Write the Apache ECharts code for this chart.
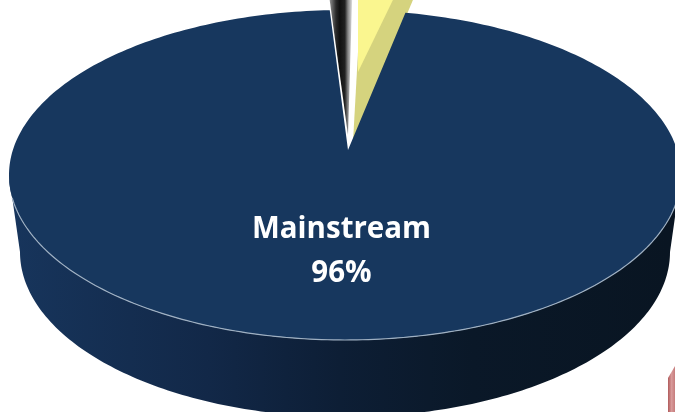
<!DOCTYPE html>
<html>
<head>
<meta charset="utf-8">
<title>Mainstream</title>
<style>
    html, body { margin: 0; padding: 0; background: #fff; }
    #chart { width: 675px; height: 412px; }
</style>
<script src="https://cdn.jsdelivr.net/npm/echarts@6/dist/echarts.min.js"></script>
</head>
<body>
<div id="chart"></div>
<script>
// chart data
var sliceNames = ['Small slice', 'Second slice', 'Mainstream'];
var sliceValues = [1, 2.6, 96.4];

var startAngle = -2.6; // degrees clockwise from the top, where the small slice begins
var faceColors = ['#1a1a1a', '#faf68f', '#17375e'];

// the tilted disc
var disc = { cx: 345, cy: 175, rx: 336, ry: 165, apexX: 348, apexY: 150 };
var wall = { cx: 345, cy: 252, rx: 325, ry: 165 };
// pulled out slices are moved up, each has its own centre and tip
var smallTop = { cx: 345.5, cy: 140, rx: 420, ry: 164, apexX: 348, apexY: 135 };
var yellowTop = { cx: 353.6, cy: 86, rx: 252, ry: 100, apexX: 358, apexY: 72 };
var yellowSide = { cx: 355.6, cy: 154, rx: 336, ry: 164, apexX: 353, apexY: 142 };

function arcPoint(d, deg) {
    var a = deg * Math.PI / 180;
    return [d.cx + d.rx * Math.sin(a), d.cy - d.ry * Math.cos(a)];
}

function arcPoints(d, from, to) {
    var pts = [];
    var steps = Math.max(2, Math.ceil(Math.abs(to - from)));
    for (var i = 0; i <= steps; i++) {
        pts.push(arcPoint(d, from + (to - from) * i / steps));
    }
    return pts;
}

function slicePolygon(d, from, to) {
    return [[d.apexX, d.apexY]].concat(arcPoints(d, from, to));
}

function polygon(points, fill, z2) {
    return { type: 'polygon', z2: z2, shape: { points: points }, style: { fill: fill } };
}

var total = sliceValues.reduce(function (a, b) { return a + b; }, 0);

function sliceSpan(index) {
    var from = startAngle;
    for (var i = 0; i < index; i++) {
        from += sliceValues[i] / total * 360;
    }
    return [from, from + sliceValues[index] / total * 360];
}

function renderSmall(span) {
    return polygon(slicePolygon(smallTop, span[0], span[1]), {
        type: 'linear', x: 330, y: 0, x2: 354, y2: 0, global: true,
        colorStops: [
            { offset: 0, color: '#8a8a8a' },
            { offset: 0.25, color: '#2a2a2a' },
            { offset: 0.4, color: '#111111' },
            { offset: 0.62, color: '#222222' },
            { offset: 0.75, color: '#888888' },
            { offset: 0.92, color: '#dddddd' },
            { offset: 1, color: '#ffffff' }
        ]
    }, 1);
}

function renderSecond(span) {
    return {
        type: 'group',
        children: [
            polygon(slicePolygon(yellowSide, span[0], span[1]), '#d5d37e', 2),
            polygon(slicePolygon(yellowTop, span[0], span[1]), faceColors[1], 3)
        ]
    };
}

function renderMain(span, name, value) {
    var frontTop = arcPoints(disc, 90, 270);
    var frontBottom = arcPoints(wall, 270, 90);
    return {
        type: 'group',
        children: [
            polygon(frontTop.concat(frontBottom), {
                type: 'linear', x: 10, y: 0, x2: 670, y2: 0, global: true,
                colorStops: [
                    { offset: 0, color: '#17355c' },
                    { offset: 0.3, color: '#122848' },
                    { offset: 0.5, color: '#0d1e35' },
                    { offset: 0.7, color: '#0a1828' },
                    { offset: 1, color: '#091522' }
                ]
            }, 4),
            polygon(slicePolygon(disc, span[0], span[1]), faceColors[2], 5),
            {
                type: 'polyline', z2: 6,
                shape: { points: arcPoints(disc, 100, 262) },
                style: { fill: 'none', stroke: '#9fb0c2', lineWidth: 1.2 }
            },
            {
                type: 'text', z2: 7,
                style: {
                    x: 341.5, y: 252,
                    text: name + '\n' + Math.round(value) + '%',
                    fill: '#ffffff',
                    font: 'bold 29.5px "Open Sans"',
                    lineHeight: 44,
                    align: 'center',
                    verticalAlign: 'middle'
                }
            }
        ]
    };
}

var myChart = echarts.init(document.getElementById('chart'), null, { renderer: 'canvas' });

myChart.setOption({
    animation: false,
    backgroundColor: '#ffffff',
    tooltip: { show: false },
    graphic: [{
        type: 'polygon',
        shape: { points: [[668, 412], [668, 378], [675, 366], [675, 412]] },
        style: {
            fill: {
                type: 'linear', x: 0, y: 0, x2: 1, y2: 0,
                colorStops: [
                    { offset: 0, color: '#b05a5a' },
                    { offset: 0.5, color: '#d89a9a' },
                    { offset: 1, color: '#c67c7c' }
                ]
            }
        }
    }],
    series: [{
        type: 'custom',
        coordinateSystem: 'none',
        silent: true,
        clip: false,
        data: sliceValues,
        renderItem: function (params, api) {
            var i = params.dataIndex;
            var span = sliceSpan(i);
            if (i === 0) {
                return renderSmall(span);
            }
            if (i === 1) {
                return renderSecond(span);
            }
            return renderMain(span, sliceNames[i], api.value(0));
        }
    }]
});
</script>
</body>
</html>
